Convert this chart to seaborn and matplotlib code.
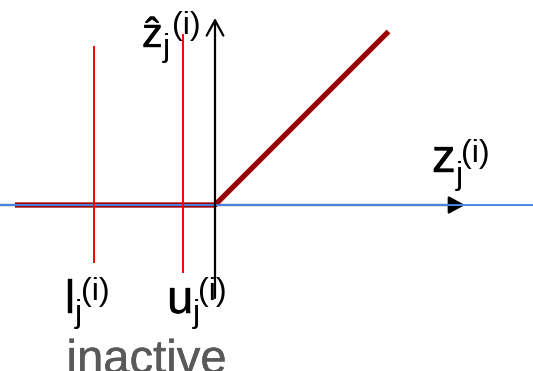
import matplotlib
matplotlib.use("Agg")
import matplotlib.pyplot as plt
import matplotlib.patheffects as pe
import seaborn as sns

# ReLU pre-activation values and outputs
z_vals = [-4.0, 0.0, 3.47]
zhat_vals = [0.0, 0.0, 3.47]

# lower / upper bounds on the pre-activation and the extent of their markers
bound_x = [-2.41, -0.64]
bound_ymin = [-1.16, -1.36]
bound_ymax = [3.18, 3.42]

# axis extents
h_axis = (-4.3, 5.0)
v_axis = (-1.86, 3.74)

DARK_RED = "#990000"
BLUE = "#4a86e8"
GRAY = "#595959"
FONT = ["Liberation Sans", "DejaVu Sans"]
PX = 50.0  # pixels per data unit

sns.set_style("white")
plt.rcParams["font.family"] = FONT

fig = plt.figure(figsize=(5.33, 3.71), dpi=100)
ax = fig.add_axes([0, 0, 1, 1])
ax.set_xlim(-4.3, 6.36)
ax.set_ylim(-3.32, 4.1)
ax.axis("off")

# horizontal axis with filled arrowhead
ax.annotate("", xy=(h_axis[1], 0), xytext=(h_axis[0], 0),
            arrowprops=dict(arrowstyle="-|>,head_length=0.5,head_width=0.27",
                            mutation_scale=20, lw=1.6, color="black",
                            shrinkA=0, shrinkB=0), zorder=1)

# ReLU curve
sns.lineplot(x=z_vals, y=zhat_vals, color=DARK_RED, lw=3.8, sort=False,
             ax=ax, zorder=2, solid_capstyle="butt")

# blue reference line
ax.axhline(0, color=BLUE, lw=1.4, zorder=3)

# bounds
ax.vlines(bound_x, bound_ymin, bound_ymax, color="red", lw=1.4, zorder=4)

# vertical axis with open arrowhead
ax.annotate("", xy=(0, v_axis[1]), xytext=(0, v_axis[0]),
            arrowprops=dict(arrowstyle="->,head_length=0.55,head_width=0.3",
                            mutation_scale=20, lw=1.6, color="black",
                            shrinkA=0, shrinkB=0), zorder=6)


def put(x, y, s, size, color="black", stroke=0.0):
    effects = [pe.withStroke(linewidth=stroke, foreground=color)] if stroke else []
    ax.text(x, y, s, fontsize=size, color=color, ha="left", va="baseline",
            family=FONT, zorder=5, path_effects=effects)


def label(main, x, y, size, sub_dx, sub_dy, sup_dx, sup_dy, small=23):
    """Main glyph with subscript j and superscript (i); offsets in pixels."""
    put(x, y, main, size, stroke=0.3)
    put(x + sub_dx / PX, y - sub_dy / PX, "j", small)
    put(x + sup_dx / PX, y - sup_dy / PX, "(i)", small)


label("\u1e91", -1.46, 3.16, 30, 21, 9, 30, -13)
label("z", 4.34, 0.66, 34, 24, 12, 29, -10)
label("l", -3.0, -2.16, 34, 10, 9, 16, -13)
label("u", -0.96, -2.16, 34, 26, 9, 31, -13)

put(-2.97, -3.36, "inactive", 34, color=GRAY, stroke=0.3)

fig.savefig("out.png", dpi=100)
